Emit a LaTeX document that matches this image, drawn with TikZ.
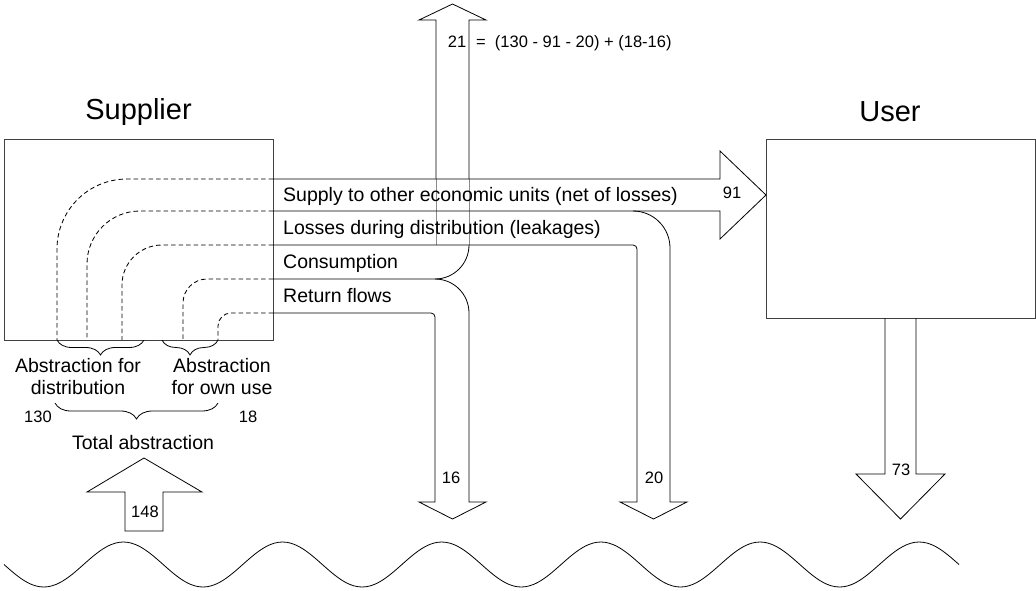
\documentclass[tikz,border=0pt]{standalone}
\usepackage{fontspec}
\setmainfont{Liberation Sans}
\usetikzlibrary{decorations.pathreplacing}
\begin{document}
\begin{tikzpicture}[x=1pt,y=-1pt,
  flow/.style={draw=black, line width=0.8pt, line join=miter},
  faint/.style={draw=black!45, line width=0.7pt},
  box/.style={draw=black!75, line width=0.9pt, inner sep=0pt},
  lbl/.style={inner sep=0pt, font=\fontsize{19.5}{22}\selectfont},
  num/.style={inner sep=0pt, font=\fontsize{16.5}{19}\selectfont},
  ttl/.style={inner sep=0pt, font=\fontsize{29}{33}\selectfont},
  dashline/.style={draw=black, line width=0.85pt, dash pattern=on 4.5pt off 3pt},
  bracedeco/.style={decorate, decoration={brace, amplitude=#1}, line width=0.8pt}
]
\useasboundingbox (0,0) rectangle (1036,590);

% boxes and titles
\node[box, minimum width=269pt, minimum height=201pt] (sup) at (138.5,239.5) {};
\node[box, minimum width=269pt, minimum height=179pt] (usr) at (900.5,228.5) {};
\node[ttl, anchor=base] (supT) at (138.5,119) {Supplier};
\node[ttl, anchor=base] (usrT) at (890,121) {User};

% dashed internal flows
\draw[dashline, rounded corners=70pt] (273,179) -| (57,340);
\draw[dashline, rounded corners=53pt] (273,211) -| (87,340);
\draw[dashline, rounded corners=40pt] (273,245) -| (122,340);
\draw[dashline, rounded corners=24pt] (273,279) -| (183,340);
\draw[dashline, rounded corners=13pt] (273,313) -| (218,340);

% upward arrow 21
\draw[flow] (436,179) -- (436,20) -- (419,20) -- (452.5,4) -- (486,20) -- (469,20) -- (469,179);
\draw[faint] (436,179) -- (436,245) (469,179) -- (469,245);

% supply band
\draw[flow] (273,179) -- (720,179) -- (720,151) -- (766,195) -- (720,239) -- (720,211) -- (273,211);

% losses band
\draw[flow] (633,211) arc[start angle=90,end angle=0,radius=37pt] -- (670,502) -- (687,502) -- (653.5,519) -- (620,502) -- (637,502) -- (637,249) arc[start angle=0,end angle=90,radius=4pt] -- (273,245);

% consumption
\draw[flow] (273,279) -- (435,279) arc[start angle=-90,end angle=0,radius=34pt];

% return flows
\draw[flow] (435,279) arc[start angle=90,end angle=0,radius=34pt] -- (469,502) -- (486,502) -- (452.5,519) -- (419,502) -- (435,502) -- (435,317) arc[start angle=0,end angle=90,radius=4pt] -- (273,313);

% user outflow
\draw[flow] (885,318) -- (885,474) -- (856,474) -- (900.5,519) -- (945,474) -- (916,474) -- (916,318);

% abstraction arrow
\draw[flow] (125,531) -- (125,492) -- (87,492) -- (144,458) -- (202,492) -- (163,492) -- (163,531) -- cycle;

% water
\draw[flow] plot[domain=4:959, samples=241, smooth] (\x, {564.5+22.5*sin(2.26179*(\x-4))});

% braces
\draw[bracedeco=15pt] (144,340) -- (57,340);
\draw[bracedeco=15pt] (218,340) -- (162,340);
\draw[bracedeco=16pt] (218,403) -- (55,403);

% band labels
\node[lbl, anchor=base west] (lsupply) at (283,201) {Supply to other economic units (net of losses)};
\node[lbl, anchor=base west] (lloss) at (283,234) {Losses during distribution (leakages)};
\node[lbl, anchor=base west] (lcons) at (283,268) {Consumption};
\node[lbl, anchor=base west] (lret) at (283,302) {Return flows};

% abstraction labels
\node[lbl, anchor=base] (ad1) at (78,372) {Abstraction for};
\node[lbl, anchor=base] (ad2) at (78,394) {distribution};
\node[lbl, anchor=base] (ao1) at (222,372) {Abstraction};
\node[lbl, anchor=base] (ao2) at (222,394) {for own use};
\node[num, anchor=base] (n130) at (38,422) {130};
\node[num, anchor=base] (n18) at (248,422) {18};
\node[lbl, anchor=base] (tot) at (143,449) {Total abstraction};

% numbers
\node[num, anchor=base] (n148) at (145,517) {148};
\node[num, anchor=base] (n21) at (457,47) {21};
\node[num, anchor=base west] (eq) at (476,47) {=\ \ (130 - 91 - 20) + (18-16)};
\node[num, anchor=base] (n16) at (451,483) {16};
\node[num, anchor=base] (n20) at (654,483) {20};
\node[num, anchor=base] (n73) at (901,475) {73};
\node[num, anchor=base] (n91) at (732,198) {91};
\end{tikzpicture}
\end{document}
